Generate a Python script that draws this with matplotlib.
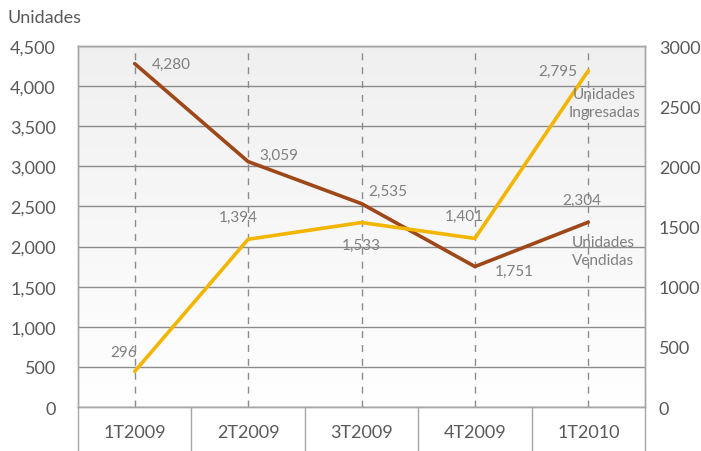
import numpy as np
import matplotlib.pyplot as plt
from matplotlib.ticker import FuncFormatter
from matplotlib.transforms import blended_transform_factory

plt.rcParams['font.family'] = ['Lato', 'DejaVu Sans']

# Datos por trimestre
trimestres = ["1T2009", "2T2009", "3T2009", "4T2009", "1T2010"]
vendidas = [4280, 3059, 2535, 1751, 2304]
ingresadas = [296, 1394, 1533, 1401, 2795]

ticks_izq = [0, 500, 1000, 1500, 2000, 2500, 3000, 3500, 4000, 4500]
ticks_der = [0, 500, 1000, 1500, 2000, 2500, 3000]

color_vend = "#9e4719"
color_ing = "#f2b500"
gris_texto = "#595959"
gris_etiq = "#7f7f7f"
gris_linea = "#8c8c8c"

fig = plt.figure(figsize=(7.01, 4.52), dpi=100)
ax = fig.add_axes([0.1113, 0.0973, 0.8088, 0.7987])
ax2 = ax.twinx()

x = np.arange(len(trimestres))

# fondo con degradado suave
grad = np.linspace(0.94, 1.0, 256).reshape(-1, 1)
ax.imshow(np.dstack([grad, grad, grad]), extent=[0, 1, 0, 1], transform=ax.transAxes,
          aspect="auto", origin="upper", zorder=0, interpolation="bicubic")

ax.set_xlim(-0.5, len(trimestres) - 0.5)
ax.set_ylim(0, 4500)
ax2.set_ylim(0, 3000)

ax.set_yticks(ticks_izq)
ax.yaxis.set_major_formatter(FuncFormatter(lambda v, p: f"{int(v):,}"))
ax2.set_yticks(ticks_der)
ax2.yaxis.set_major_formatter(FuncFormatter(lambda v, p: f"{int(v)}"))

ax.grid(axis="y", color=gris_linea, linewidth=1.0, zorder=1)
for xi in x:
    ax.axvline(xi, color=gris_linea, linestyle=(0, (5, 5)), linewidth=1.0, zorder=1)

ax.set_xticks(x)
ax.set_xticklabels(trimestres)

for a in (ax, ax2):
    a.tick_params(length=0, labelsize=13, labelcolor=gris_texto)
    for s in a.spines.values():
        s.set_color("#a6a6a6")
        s.set_linewidth(1.0)
ax.tick_params(axis="y", pad=16)
ax2.tick_params(axis="y", pad=10)
ax.tick_params(axis="x", pad=12)

# celdas bajo el eje x
trans = blended_transform_factory(ax.transData, ax.transAxes)
for b in np.arange(-0.5, len(trimestres), 1.0):
    ax.plot([b, b], [0, -0.13], transform=trans, color="#a6a6a6", linewidth=1.0, clip_on=False)

ax.plot(x, vendidas, color=color_vend, linewidth=2.6, zorder=3, solid_capstyle="round")
ax2.plot(x, ingresadas, color=color_ing, linewidth=2.6, zorder=3, solid_capstyle="round")

off_vend = [(12, 0), (8, 5), (5, 9), (14, -3), (-5, 11)]
ha_vend = ["left", "left", "left", "left", "center"]
va_vend = ["center", "center", "center", "center", "bottom"]
for xi, v, o, h, va in zip(x, vendidas, off_vend, ha_vend, va_vend):
    ax.annotate(f"{v:,}", (xi, v), xytext=o, textcoords="offset points",
                ha=h, va=va, fontsize=11, color=gris_etiq, zorder=4)

off_ing = [(-8, 14), (-7, 11), (0, -11), (-8, 11), (-8, 0)]
ha_ing = ["center", "center", "center", "center", "right"]
va_ing = ["center", "bottom", "top", "bottom", "center"]
for xi, v, o, h, va in zip(x, ingresadas, off_ing, ha_ing, va_ing):
    ax2.annotate(f"{v:,}", (xi, v), xytext=o, textcoords="offset points",
                 ha=h, va=va, fontsize=11, color=gris_etiq, zorder=4)

ax2.text(4.14, 2527, "Unidades\nIngresadas", ha="center", va="center",
         fontsize=11, color=gris_etiq, linespacing=1.3)
ax.text(4.13, 1945, "Unidades\nVendidas", ha="center", va="center",
        fontsize=11, color=gris_etiq, linespacing=1.3)

fig.text(0.011, 0.96, "Unidades", ha="left", va="center", fontsize=13, color=gris_texto)

fig.savefig("out.png", dpi=100)
